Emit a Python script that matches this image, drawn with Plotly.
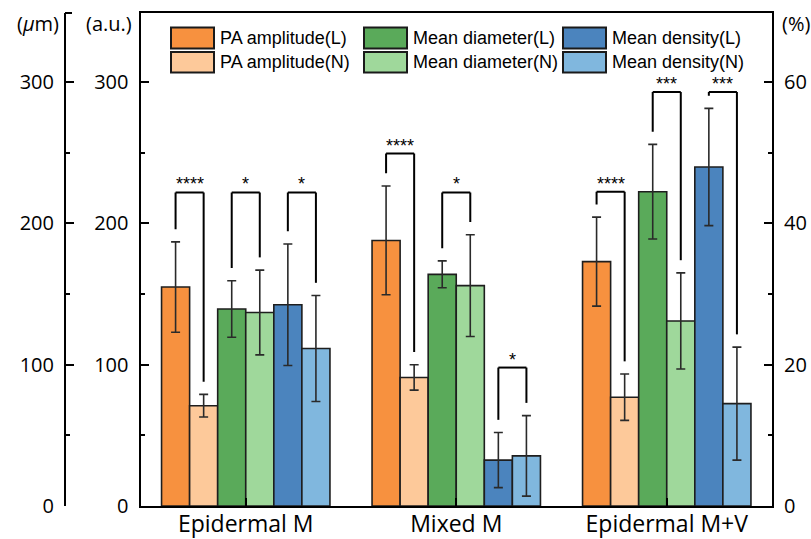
import plotly.graph_objects as go

# ---------------- data ----------------
categories = ["Epidermal M", "Mixed M", "Epidermal M+V"]
series_names = ["PA amplitude(L)", "PA amplitude(N)", "Mean diameter(L)",
                "Mean diameter(N)", "Mean density(L)", "Mean density(N)"]

pa_L = [155, 188, 173]
pa_L_err = [32, 38.5, 31.5]
pa_N = [71, 91, 77]
pa_N_err = [8, 9, 16.4]
md_L = [139.5, 164, 222.5]
md_L_err = [20, 9.5, 33.5]
md_N = [137, 156, 131]
md_N_err = [30, 36, 34]
den_L = [28.5, 6.5, 48.0]      # %
den_L_err = [8.6, 3.9, 8.3]
den_N = [22.3, 7.1, 14.5]      # %
den_N_err = [7.5, 5.7, 8.0]

# significance: per group, per pair (PA, MD, density)
stars = [["****", "*", "*"],
         ["****", "*", "*"],
         ["****", "***", "***"]]
bracket_top = [[222, 222, 222],      # in a.u. units
               [249.5, 222, 98],
               [222.5, 293, 293]]

colors = ["#F7913F", "#FDC99A", "#5AAA5A", "#9FD89B", "#4B84BE", "#80B7DE"]

# ---------------- layout geometry ----------------
W, H = 811, 539
L, R, T, B = 10, 39, 13, 33
pw, ph = W - L - R, H - T - B
def px_x(x): return (x - L) / pw
def px_y(y): return (H - B - y) / ph

Y_MAX = 349
PCT_FACTOR = 5  # a.u. per %

values = [pa_L, pa_N, md_L, md_N, den_L, den_N]
errors = [pa_L_err, pa_N_err, md_L_err, md_N_err, den_L_err, den_N_err]
axes = ["y", "y", "y", "y", "y3", "y3"]

bw = 0.8 / 6
fig = go.Figure()
for j, name in enumerate(series_names):
    fig.add_trace(go.Bar(
        x=categories, y=values[j], name=name, yaxis=axes[j],
        width=bw, offset=-0.4 + j * bw,
        marker=dict(color=colors[j], line=dict(color="#1e1e1e", width=1.6)),
        error_y=dict(type="data", array=errors[j], visible=True,
                     color="#2a2a2a", thickness=1.6, width=4.5),
        showlegend=False,
    ))

# ---------------- brackets ----------------
shapes = []
annotations = []
GAP = 9
for gi in range(len(categories)):
    for p in range(3):
        ja, jb = 2 * p, 2 * p + 1
        xa = gi - 0.4 + (ja + 0.5) * bw
        xb = gi - 0.4 + (jb + 0.5) * bw
        fa = PCT_FACTOR if axes[ja] == "y3" else 1
        fb = PCT_FACTOR if axes[jb] == "y3" else 1
        ya = (values[ja][gi] + errors[ja][gi]) * fa + GAP
        yb = (values[jb][gi] + errors[jb][gi]) * fb + GAP
        yt = bracket_top[gi][p]
        ln = dict(color="black", width=2)
        shapes.append(dict(type="line", xref="x", yref="y", x0=xa, x1=xa, y0=ya, y1=yt, line=ln))
        shapes.append(dict(type="line", xref="x", yref="y", x0=xa, x1=xb, y0=yt, y1=yt, line=ln))
        shapes.append(dict(type="line", xref="x", yref="y", x0=xb, x1=xb, y0=yt, y1=yb, line=ln))
        annotations.append(dict(x=(xa + xb) / 2, y=yt, xref="x", yref="y", text=stars[gi][p],
                                showarrow=False, xanchor="center", yanchor="bottom", yshift=-4,
                                font=dict(family="Liberation Sans", size=18, color="black")))

# ---------------- custom legend ----------------
leg_cols_x = [171, 364, 563]
leg_rows_y = [(27.5, 48.5), (52, 72.5)]
for j, name in enumerate(series_names):
    col, row = j // 2, j % 2
    x0 = leg_cols_x[col]
    y0, y1 = leg_rows_y[row]
    shapes.append(dict(type="rect", xref="paper", yref="paper",
                       x0=px_x(x0), x1=px_x(x0 + 43), y0=px_y(y1), y1=px_y(y0),
                       fillcolor=colors[j], line=dict(color="#1a1a1a", width=2)))
    annotations.append(dict(x=px_x(x0 + 47), y=px_y((y0 + y1) / 2), xref="paper", yref="paper",
                            text=name, showarrow=False, xanchor="left", yanchor="middle",
                            font=dict(family="Liberation Sans", size=18, color="black")))

# top serif of the outer axis
shapes.append(dict(type="line", xref="paper", yref="paper", x0=px_x(65), x1=px_x(72),
                   y0=1, y1=1, line=dict(color="black", width=2)))

# axis unit labels
unit_font = dict(family="Open Sans", size=20, color="black")
for txt, cx, cy in [("(<i>μ</i>m)", 38, 24), ("(a.u.)", 109, 24), ("(%)", 796, 23)]:
    annotations.append(dict(x=px_x(cx), y=px_y(cy), xref="paper", yref="paper", text=txt,
                            showarrow=False, xanchor="center", yanchor="middle", font=unit_font))

tick_font = dict(family="Open Sans", size=20, color="black")
common_y = dict(showline=True, linecolor="black", linewidth=2, ticks="inside", ticklen=8,
                tickwidth=2, tickcolor="black", showgrid=False, zeroline=False,
                tickfont=tick_font, ticklabelstandoff=6, automargin=False)

fig.update_layout(
    template="none",
    width=W, height=H, margin=dict(l=L, r=R, t=T, b=B, autoexpand=False),
    paper_bgcolor="white", plot_bgcolor="white",
    barmode="group",
    xaxis=dict(domain=[px_x(140.5), 1], range=[-0.5, 2.5], showline=True, mirror=True,
               linecolor="black", linewidth=2, ticks="inside", ticklen=8, tickwidth=2,
               tickcolor="black", tickfont=dict(family="Open Sans", size=23, color="black"),
               ticklabelstandoff=-4,
               showgrid=False, zeroline=False, automargin=False),
    yaxis=dict(range=[0, Y_MAX], tickvals=[0, 100, 200, 300], anchor="x",
               minor=dict(dtick=50, tick0=0, ticks="inside", ticklen=4, tickwidth=2, tickcolor="black"),
               **common_y),
    yaxis2=dict(range=[0, Y_MAX], tickvals=[0, 100, 200, 300], overlaying="y", anchor="free",
                position=px_x(65), side="left",
                minor=dict(dtick=50, tick0=0, ticks="inside", ticklen=4, tickwidth=2, tickcolor="black"),
                **common_y),
    yaxis3=dict(range=[0, Y_MAX / PCT_FACTOR], tickvals=[0, 20, 40, 60], overlaying="y",
                anchor="x", side="right",
                minor=dict(dtick=10, tick0=0, ticks="inside", ticklen=4, tickwidth=2, tickcolor="black"),
                **common_y),
    shapes=shapes, annotations=annotations,
)

# invisible trace to display the outer (um) axis
fig.add_trace(go.Scatter(x=[categories[0]], y=[0], yaxis="y2", mode="markers",
                         marker=dict(opacity=0), showlegend=False, hoverinfo="skip"))

fig.write_html("out.html", config={"displayModeBar": False},
               post_script="document.body.style.margin='0';document.body.style.overflow='hidden';")
